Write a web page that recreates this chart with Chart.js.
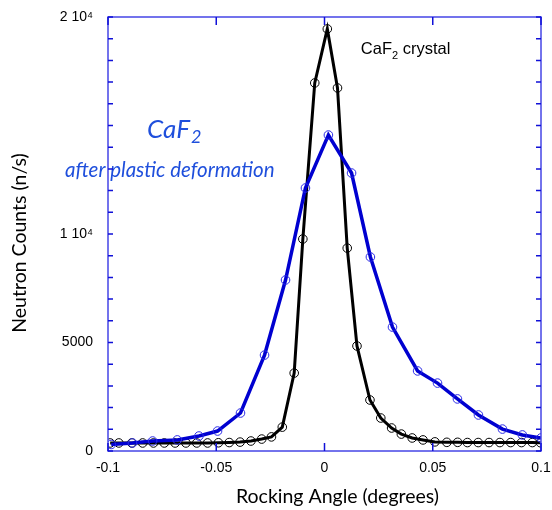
<!DOCTYPE html>
<html><head><meta charset="utf-8">
<script src="https://cdn.jsdelivr.net/npm/chart.js@4"></script>
<style>html,body{margin:0;padding:0;background:#fff}</style>
</head><body>
<canvas id="c" width="552" height="510"></canvas>
<script>
// CaF2 crystal (black)
const crystalAngle = [-0.099,-0.095,-0.089,-0.084,-0.079,-0.074,-0.069,-0.064,-0.059,-0.054,-0.049,-0.044,-0.039,-0.034,-0.029,-0.0245,-0.0195,-0.014,-0.010,-0.0045,0.0013,0.006,0.0105,0.015,0.021,0.026,0.031,0.0355,0.0405,0.0455,0.051,0.0565,0.0615,0.066,0.071,0.076,0.081,0.086,0.091,0.096,0.0998];
const crystalCounts = [370,370,370,370,370,370,370,370,370,370,380,390,410,460,550,650,1100,3590,9770,16960,19450,16730,9350,4840,2350,1520,1060,780,600,510,420,400,400,390,390,390,390,390,390,390,380];
// CaF2 after plastic deformation (blue)
const deformedAngle = [-0.0985,-0.0887,-0.0794,-0.068,-0.058,-0.0494,-0.0388,-0.0277,-0.018,-0.0088,0.0018,0.0125,0.0212,0.0314,0.043,0.0522,0.0614,0.0711,0.0822,0.0914,0.1];
const deformedCounts = [300,370,460,510,690,920,1750,4420,7880,12120,14560,12810,8940,5710,3690,3130,2400,1660,1010,740,600];
// tick labels
const xTickValues = [-0.1,-0.05,0,0.05,0.1];
const xTickLabels = ['-0.1','-0.05','0','0.05','0.1'];
const yTickValues = [0,5000,10000,20000];
const yTickLabels = ['0','5000','1 10\u2074','2 10\u2074'];
const xTitle = 'Rocking Angle (degrees)';
const yTitle = 'Neutron Counts (n/s)';

const toPts = (xs, ys) => xs.map((x, i) => ({x: x, y: ys[i]}));

const framePlugin = {
  id: 'frame',
  afterDraw(chart) {
    const ctx = chart.ctx, a = chart.chartArea;
    const xs = chart.scales.x, ys = chart.scales.y;
    ctx.save();
    ctx.strokeStyle = '#4646e6';
    ctx.lineWidth = 1.5;
    ctx.strokeRect(a.left, a.top, a.right - a.left, a.bottom - a.top);
    ctx.strokeStyle = '#1010d8';
    ctx.lineWidth = 1.5;
    ctx.beginPath();
    for (let v = 0; v <= 20000; v += 1000) {
      const y = ys.getPixelForValue(v);
      ctx.moveTo(a.left, y); ctx.lineTo(a.left + 5, y);
      ctx.moveTo(a.right, y); ctx.lineTo(a.right - 5, y);
    }
    xTickValues.forEach(v => {
      const x = xs.getPixelForValue(v);
      ctx.moveTo(x, a.bottom); ctx.lineTo(x, a.bottom - 8);
      ctx.moveTo(x, a.top); ctx.lineTo(x, a.top + 8);
    });
    ctx.stroke();
    // axis titles
    ctx.fillStyle = '#000';
    ctx.font = '19.5px Lato, "Open Sans", sans-serif';
    ctx.textAlign = 'center';
    ctx.textBaseline = 'middle';
    ctx.fillText(xTitle, (a.left + a.right) / 2 + 13, a.bottom + 46);
    ctx.translate(20, (a.top + a.bottom) / 2 + 9);
    ctx.rotate(-Math.PI / 2);
    ctx.fillText(yTitle, 0, 0);
    ctx.restore();
  },
  afterDatasetsDraw(chart) {
    const ctx = chart.ctx;
    const xs = chart.scales.x, ys = chart.scales.y;
    ctx.save();
    // CaF2 crystal label
    let x = xs.getPixelForValue(0.0168), y = ys.getPixelForValue(18500);
    ctx.fillStyle = '#000';
    ctx.textBaseline = 'middle';
    ctx.textAlign = 'left';
    ctx.font = '16.5px "Liberation Sans", Arial, sans-serif';
    ctx.fillText('CaF', x, y);
    let w = ctx.measureText('CaF').width;
    ctx.font = '11px "Liberation Sans", Arial, sans-serif';
    ctx.fillText('2', x + w, y + 6);
    let w2 = ctx.measureText('2').width;
    ctx.font = '16.5px "Liberation Sans", Arial, sans-serif';
    ctx.fillText(' crystal', x + w + w2, y);
    // blue labels
    ctx.fillStyle = '#1f4fdc';
    x = xs.getPixelForValue(-0.082); y = ys.getPixelForValue(14800);
    ctx.font = 'italic 26px Lato, "Open Sans", sans-serif';
    ctx.fillText('CaF', x, y);
    w = ctx.measureText('CaF').width;
    ctx.font = 'italic 18px Lato, "Open Sans", sans-serif';
    ctx.fillText('2', x + w + 1, y + 7);
    ctx.textAlign = 'center';
    ctx.font = 'italic 20.5px Lato, "Open Sans", sans-serif';
    x = xs.getPixelForValue(-0.0715); y = ys.getPixelForValue(12950);
    ctx.fillText('after plastic deformation', x, y);
    ctx.restore();
  }
};

new Chart(document.getElementById('c'), {
  type: 'scatter',
  data: {
    datasets: [
      {
        label: 'after plastic deformation',
        data: toPts(deformedAngle, deformedCounts),
        showLine: true,
        borderColor: '#0000d0',
        borderWidth: 3.5,
        pointRadius: 4.3,
        pointBorderWidth: 1,
        pointBorderColor: '#2a2ae6',
        pointBackgroundColor: 'rgba(0,0,0,0)',
        tension: 0
      },
      {
        label: 'CaF2 crystal',
        data: toPts(crystalAngle, crystalCounts),
        showLine: true,
        borderColor: '#000',
        borderWidth: 3,
        pointRadius: 4.3,
        pointBorderWidth: 1,
        pointBorderColor: '#000',
        pointBackgroundColor: 'rgba(0,0,0,0)',
        tension: 0
      }
    ]
  },
  options: {
    responsive: false,
    animation: false,
    layout: {padding: {top: 17, right: 11, left: 0, bottom: 0}},
    plugins: {legend: {display: false}, tooltip: {enabled: false}},
    scales: {
      x: {
        type: 'linear', min: -0.1, max: 0.1,
        grid: {display: false, drawTicks: false}, border: {display: false},
        afterBuildTicks(s) { s.ticks = xTickValues.map(v => ({value: v})); },
        afterFit(s) { s.height = 59; s.paddingLeft = 0; s.paddingRight = 0; },
        ticks: {
          color: '#000', padding: 9,
          font: {family: '"Liberation Sans", Arial, sans-serif', size: 14},
          callback: (v) => { const i = xTickValues.findIndex(t => Math.abs(t - v) < 1e-9); return i >= 0 ? xTickLabels[i] : ''; }
        },
        title: {display: false}
      },
      y: {
        type: 'linear', min: 0, max: 20000,
        grid: {display: false, drawTicks: false}, border: {display: false},
        afterBuildTicks(s) { s.ticks = yTickValues.map(v => ({value: v})); },
        afterFit(s) { s.width = 108; s.paddingTop = 0; s.paddingBottom = 0; },
        ticks: {
          color: '#000', padding: 15,
          font: {family: '"Liberation Sans", Arial, sans-serif', size: 14},
          callback: (v) => { const i = yTickValues.indexOf(v); return i >= 0 ? yTickLabels[i] : ''; }
        },
        title: {display: false}
      }
    }
  },
  plugins: [framePlugin]
});
</script>
</body></html>
